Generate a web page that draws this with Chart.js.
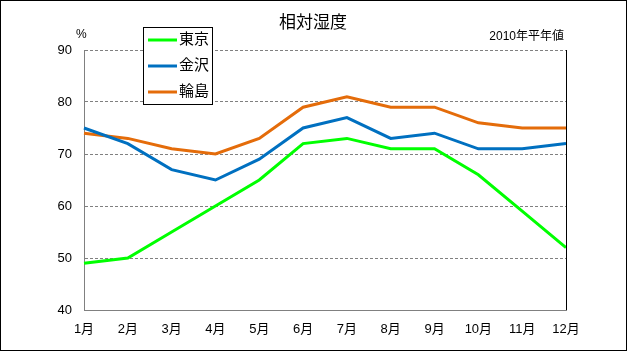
<!DOCTYPE html>
<html>
<head>
<meta charset="utf-8">
<script src="https://cdn.jsdelivr.net/npm/chart.js@4"></script>
<style>
  html, body { margin: 0; padding: 0; background: #fff; }
  #wrap { width: 629px; height: 352px; }
</style>
</head>
<body>
<div id="wrap"><canvas id="chart" width="629" height="352"></canvas></div>
<script>
const months = ["1月", "2月", "3月", "4月", "5月", "6月", "7月", "8月", "9月", "10月", "11月", "12月"];
const tokyo = [49, 50, 55, 60, 65, 72, 73, 71, 71, 66, 59, 52];
const kanazawa = [75, 72, 67, 65, 69, 75, 77, 73, 74, 71, 71, 72];
const wajima = [74, 73, 71, 70, 73, 79, 81, 79, 79, 76, 75, 75];
const yTicks = [40, 50, 60, 70, 80, 90];

const FONT = "'Liberation Sans', 'Noto Sans CJK JP', sans-serif";

// frame, titles, legend box and right border of the plot
const decor = {
  id: "decor",
  afterDraw(chart) {
    const ctx = chart.ctx;
    const area = chart.chartArea;
    ctx.save();

    ctx.strokeStyle = "#000";
    ctx.lineWidth = 1;
    ctx.beginPath();
    ctx.moveTo(Math.round(area.right) + 0.5, area.top);
    ctx.lineTo(Math.round(area.right) + 0.5, area.bottom);
    ctx.stroke();

    ctx.strokeRect(0.5, 0.5, 626, 350);

    ctx.fillStyle = "#000";
    ctx.textBaseline = "middle";
    ctx.font = "17px " + FONT;
    ctx.textAlign = "center";
    ctx.fillText("相対湿度", 313, 23);

    ctx.font = "12px " + FONT;
    ctx.textAlign = "right";
    ctx.fillText("2010年平年値", 564, 37);
    ctx.textAlign = "left";
    ctx.fillText("%", 76, 35);

    // legend
    const lx = 143, ly = 27, lw = 69, lh = 77;
    ctx.fillStyle = "#fff";
    ctx.fillRect(lx, ly, lw, lh);
    ctx.strokeStyle = "#000";
    ctx.strokeRect(lx + 0.5, ly + 0.5, lw, lh);
    ctx.font = "15px " + FONT;
    chart.data.datasets.forEach((ds, i) => {
      const y = ly + 13 + i * 26;
      ctx.strokeStyle = ds.borderColor;
      ctx.lineWidth = 3;
      ctx.beginPath();
      ctx.moveTo(lx + 5, y);
      ctx.lineTo(lx + 34, y);
      ctx.stroke();
      ctx.fillStyle = "#000";
      ctx.textAlign = "left";
      ctx.fillText(ds.label, lx + 36, y);
    });
    ctx.restore();
  },
};

new Chart(document.getElementById("chart"), {
  type: "line",
  data: {
    labels: months,
    datasets: [
      { label: "東京", data: tokyo, borderColor: "#00FF00" },
      { label: "金沢", data: kanazawa, borderColor: "#0070C0" },
      { label: "輪島", data: wajima, borderColor: "#E46C0A" },
    ],
  },
  options: {
    responsive: false,
    animation: false,
    layout: { padding: { top: 50, right: 63, left: 0, bottom: 0 } },
    elements: {
      line: { borderWidth: 3, tension: 0 },
      point: { radius: 0 },
    },
    plugins: {
      legend: { display: false },
      tooltip: { enabled: false },
    },
    scales: {
      x: {
        offset: false,
        afterFit: (scale) => { scale.height = 42; },
        grid: { display: false, drawTicks: false },
        border: { color: "#808080", width: 1 },
        ticks: { color: "#000", font: { size: 13, family: FONT }, padding: 12, maxRotation: 0 },
      },
      y: {
        min: 40,
        max: 90,
        afterFit: (scale) => { scale.width = 84; },
        afterBuildTicks: (scale) => { scale.ticks = yTicks.map((v) => ({ value: v })); },
        grid: { color: "#808080", drawTicks: false },
        border: { color: "#808080", width: 1, dash: [3, 2] },
        ticks: { color: "#000", font: { size: 13, family: FONT }, padding: 12 },
      },
    },
  },
  plugins: [decor],
});
</script>
</body>
</html>
